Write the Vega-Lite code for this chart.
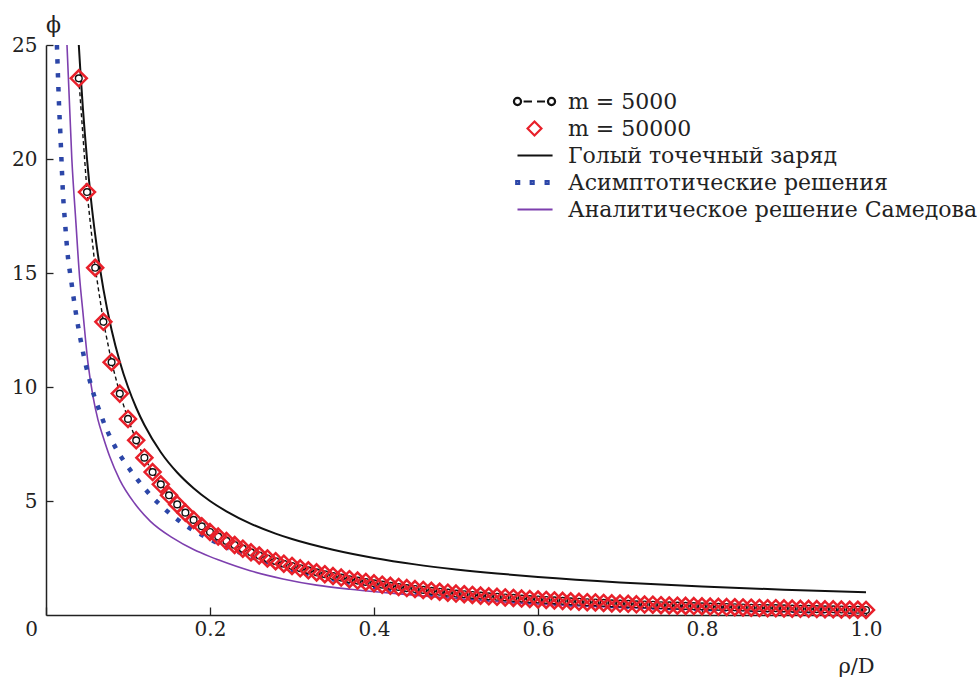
{
  "$schema": "https://vega.github.io/schema/vega-lite/v6.json",
  "width": 820,
  "height": 570,
  "autosize": {"type": "none"},
  "padding": {"left": 46, "top": 45, "right": 111, "bottom": 63},
  "background": "white",
  "config": {
    "font": "DejaVu Serif",
    "view": {"stroke": null},
    "axis": {
      "domainColor": "#222222",
      "domainWidth": 1.5,
      "tickColor": "#222222",
      "tickWidth": 1.3,
      "grid": false,
      "labelFlush": false,
      "labelFont": "DejaVu Serif",
      "labelFontSize": 20,
      "labelColor": "#222222",
      "titleFont": "DejaVu Serif",
      "titleFontWeight": "normal",
      "titleColor": "#222222"
    },
    "legend": {
      "orient": "none",
      "legendX": 466,
      "legendY": 44,
      "padding": 0,
      "labelFont": "DejaVu Serif",
      "labelFontSize": 22,
      "labelColor": "#222222",
      "labelOffset": 11,
      "symbolSize": 1764,
      "symbolStrokeWidth": 2.2,
      "clipHeight": 25,
      "rowPadding": 2,
      "labelLimit": 600
    }
  },
  "datasets": {
    "sim": [
      {"rho": 0.04, "m5000": 23.54, "m50000": 23.54},
      {"rho": 0.05, "m5000": 18.55, "m50000": 18.55},
      {"rho": 0.06, "m5000": 15.23, "m50000": 15.23},
      {"rho": 0.07, "m5000": 12.86, "m50000": 12.86},
      {"rho": 0.08, "m5000": 11.09, "m50000": 11.09},
      {"rho": 0.09, "m5000": 9.71, "m50000": 9.71},
      {"rho": 0.10, "m5000": 8.6, "m50000": 8.6},
      {"rho": 0.11, "m5000": 7.66, "m50000": 7.66},
      {"rho": 0.12, "m5000": 6.9, "m50000": 6.9},
      {"rho": 0.13, "m5000": 6.27, "m50000": 6.27},
      {"rho": 0.14, "m5000": 5.73, "m50000": 5.73},
      {"rho": 0.15, "m5000": 5.25, "m50000": 5.25},
      {"rho": 0.16, "m5000": 4.85, "m50000": 4.85},
      {"rho": 0.17, "m5000": 4.49, "m50000": 4.49},
      {"rho": 0.18, "m5000": 4.17, "m50000": 4.17},
      {"rho": 0.19, "m5000": 3.89, "m50000": 3.89},
      {"rho": 0.20, "m5000": 3.64, "m50000": 3.64},
      {"rho": 0.21, "m5000": 3.44, "m50000": 3.44},
      {"rho": 0.22, "m5000": 3.25, "m50000": 3.25},
      {"rho": 0.23, "m5000": 3.07, "m50000": 3.07},
      {"rho": 0.24, "m5000": 2.91, "m50000": 2.91},
      {"rho": 0.25, "m5000": 2.75, "m50000": 2.75},
      {"rho": 0.26, "m5000": 2.61, "m50000": 2.61},
      {"rho": 0.27, "m5000": 2.48, "m50000": 2.48},
      {"rho": 0.28, "m5000": 2.36, "m50000": 2.36},
      {"rho": 0.29, "m5000": 2.25, "m50000": 2.25},
      {"rho": 0.30, "m5000": 2.15, "m50000": 2.15},
      {"rho": 0.31, "m5000": 2.05, "m50000": 2.05},
      {"rho": 0.32, "m5000": 1.96, "m50000": 1.96},
      {"rho": 0.33, "m5000": 1.87, "m50000": 1.87},
      {"rho": 0.34, "m5000": 1.79, "m50000": 1.79},
      {"rho": 0.35, "m5000": 1.71, "m50000": 1.71},
      {"rho": 0.36, "m5000": 1.64, "m50000": 1.64},
      {"rho": 0.37, "m5000": 1.57, "m50000": 1.57},
      {"rho": 0.38, "m5000": 1.51, "m50000": 1.51},
      {"rho": 0.39, "m5000": 1.45, "m50000": 1.45},
      {"rho": 0.40, "m5000": 1.39, "m50000": 1.39},
      {"rho": 0.41, "m5000": 1.33, "m50000": 1.33},
      {"rho": 0.42, "m5000": 1.28, "m50000": 1.28},
      {"rho": 0.43, "m5000": 1.23, "m50000": 1.23},
      {"rho": 0.44, "m5000": 1.18, "m50000": 1.18},
      {"rho": 0.45, "m5000": 1.14, "m50000": 1.14},
      {"rho": 0.46, "m5000": 1.1, "m50000": 1.1},
      {"rho": 0.47, "m5000": 1.06, "m50000": 1.06},
      {"rho": 0.48, "m5000": 1.02, "m50000": 1.02},
      {"rho": 0.49, "m5000": 0.98, "m50000": 0.98},
      {"rho": 0.50, "m5000": 0.94, "m50000": 0.94},
      {"rho": 0.51, "m5000": 0.91, "m50000": 0.91},
      {"rho": 0.52, "m5000": 0.88, "m50000": 0.88},
      {"rho": 0.53, "m5000": 0.85, "m50000": 0.85},
      {"rho": 0.54, "m5000": 0.82, "m50000": 0.82},
      {"rho": 0.55, "m5000": 0.8, "m50000": 0.8},
      {"rho": 0.56, "m5000": 0.77, "m50000": 0.77},
      {"rho": 0.57, "m5000": 0.75, "m50000": 0.75},
      {"rho": 0.58, "m5000": 0.72, "m50000": 0.72},
      {"rho": 0.59, "m5000": 0.7, "m50000": 0.7},
      {"rho": 0.60, "m5000": 0.68, "m50000": 0.68},
      {"rho": 0.61, "m5000": 0.66, "m50000": 0.66},
      {"rho": 0.62, "m5000": 0.64, "m50000": 0.64},
      {"rho": 0.63, "m5000": 0.62, "m50000": 0.62},
      {"rho": 0.64, "m5000": 0.6, "m50000": 0.6},
      {"rho": 0.65, "m5000": 0.58, "m50000": 0.58},
      {"rho": 0.66, "m5000": 0.56, "m50000": 0.56},
      {"rho": 0.67, "m5000": 0.55, "m50000": 0.55},
      {"rho": 0.68, "m5000": 0.53, "m50000": 0.53},
      {"rho": 0.69, "m5000": 0.51, "m50000": 0.51},
      {"rho": 0.70, "m5000": 0.5, "m50000": 0.5},
      {"rho": 0.71, "m5000": 0.49, "m50000": 0.49},
      {"rho": 0.72, "m5000": 0.47, "m50000": 0.47},
      {"rho": 0.73, "m5000": 0.46, "m50000": 0.46},
      {"rho": 0.74, "m5000": 0.45, "m50000": 0.45},
      {"rho": 0.75, "m5000": 0.43, "m50000": 0.43},
      {"rho": 0.76, "m5000": 0.42, "m50000": 0.42},
      {"rho": 0.77, "m5000": 0.41, "m50000": 0.41},
      {"rho": 0.78, "m5000": 0.4, "m50000": 0.4},
      {"rho": 0.79, "m5000": 0.39, "m50000": 0.39},
      {"rho": 0.80, "m5000": 0.38, "m50000": 0.38},
      {"rho": 0.81, "m5000": 0.37, "m50000": 0.37},
      {"rho": 0.82, "m5000": 0.36, "m50000": 0.36},
      {"rho": 0.83, "m5000": 0.35, "m50000": 0.35},
      {"rho": 0.84, "m5000": 0.34, "m50000": 0.34},
      {"rho": 0.85, "m5000": 0.33, "m50000": 0.33},
      {"rho": 0.86, "m5000": 0.32, "m50000": 0.32},
      {"rho": 0.87, "m5000": 0.31, "m50000": 0.31},
      {"rho": 0.88, "m5000": 0.3, "m50000": 0.3},
      {"rho": 0.89, "m5000": 0.3, "m50000": 0.3},
      {"rho": 0.90, "m5000": 0.29, "m50000": 0.29},
      {"rho": 0.91, "m5000": 0.28, "m50000": 0.28},
      {"rho": 0.92, "m5000": 0.27, "m50000": 0.27},
      {"rho": 0.93, "m5000": 0.27, "m50000": 0.27},
      {"rho": 0.94, "m5000": 0.26, "m50000": 0.26},
      {"rho": 0.95, "m5000": 0.25, "m50000": 0.25},
      {"rho": 0.96, "m5000": 0.25, "m50000": 0.25},
      {"rho": 0.97, "m5000": 0.24, "m50000": 0.24},
      {"rho": 0.98, "m5000": 0.23, "m50000": 0.23},
      {"rho": 0.99, "m5000": 0.23, "m50000": 0.23},
      {"rho": 1.00, "m5000": 0.22, "m50000": 0.22}
    ],
    "bare": [
      {"rho": 0.04, "phi": 25},
      {"rho": 0.042, "phi": 23.81},
      {"rho": 0.045, "phi": 22.22},
      {"rho": 0.05, "phi": 20},
      {"rho": 0.055, "phi": 18.18},
      {"rho": 0.06, "phi": 16.67},
      {"rho": 0.07, "phi": 14.29},
      {"rho": 0.08, "phi": 12.5},
      {"rho": 0.09, "phi": 11.11},
      {"rho": 0.1, "phi": 10},
      {"rho": 0.11, "phi": 9.09},
      {"rho": 0.12, "phi": 8.33},
      {"rho": 0.14, "phi": 7.14},
      {"rho": 0.16, "phi": 6.25},
      {"rho": 0.18, "phi": 5.56},
      {"rho": 0.2, "phi": 5},
      {"rho": 0.22, "phi": 4.55},
      {"rho": 0.25, "phi": 4},
      {"rho": 0.28, "phi": 3.57},
      {"rho": 0.3, "phi": 3.33},
      {"rho": 0.35, "phi": 2.86},
      {"rho": 0.4, "phi": 2.5},
      {"rho": 0.45, "phi": 2.22},
      {"rho": 0.5, "phi": 2},
      {"rho": 0.55, "phi": 1.82},
      {"rho": 0.6, "phi": 1.67},
      {"rho": 0.7, "phi": 1.43},
      {"rho": 0.8, "phi": 1.25},
      {"rho": 0.9, "phi": 1.11},
      {"rho": 1.0, "phi": 1.0}
    ],
    "asym": [
      {"rho": 0.0133, "phi": 25},
      {"rho": 0.0146, "phi": 23.64},
      {"rho": 0.0159, "phi": 22.37},
      {"rho": 0.0176, "phi": 21.05},
      {"rho": 0.0191, "phi": 19.76},
      {"rho": 0.0207, "phi": 18.49},
      {"rho": 0.0232, "phi": 17.23},
      {"rho": 0.0261, "phi": 15.93},
      {"rho": 0.031, "phi": 14.6},
      {"rho": 0.0362, "phi": 13.3},
      {"rho": 0.0423, "phi": 12.05},
      {"rho": 0.0493, "phi": 10.85},
      {"rho": 0.0541, "phi": 10.18},
      {"rho": 0.0594, "phi": 9.54},
      {"rho": 0.0655, "phi": 8.93},
      {"rho": 0.0716, "phi": 8.34},
      {"rho": 0.0789, "phi": 7.76},
      {"rho": 0.087, "phi": 7.2},
      {"rho": 0.0968, "phi": 6.66},
      {"rho": 0.107, "phi": 6.15},
      {"rho": 0.1184, "phi": 5.63},
      {"rho": 0.1305, "phi": 5.14},
      {"rho": 0.1435, "phi": 4.69},
      {"rho": 0.157, "phi": 4.28},
      {"rho": 0.1715, "phi": 3.9},
      {"rho": 0.187, "phi": 3.57},
      {"rho": 0.202, "phi": 3.28},
      {"rho": 0.218, "phi": 3.0},
      {"rho": 0.235, "phi": 2.76},
      {"rho": 0.251, "phi": 2.54},
      {"rho": 0.268, "phi": 2.33},
      {"rho": 0.285, "phi": 2.14},
      {"rho": 0.302, "phi": 1.96},
      {"rho": 0.32, "phi": 1.8},
      {"rho": 0.338, "phi": 1.65},
      {"rho": 0.356, "phi": 1.52},
      {"rho": 0.373, "phi": 1.4},
      {"rho": 0.391, "phi": 1.28},
      {"rho": 0.407, "phi": 1.18},
      {"rho": 0.426, "phi": 1.09},
      {"rho": 0.48, "phi": 0.88},
      {"rho": 0.533, "phi": 0.7},
      {"rho": 0.587, "phi": 0.57},
      {"rho": 0.7, "phi": 0.38},
      {"rho": 0.8, "phi": 0.27},
      {"rho": 0.9, "phi": 0.19},
      {"rho": 1.0, "phi": 0.13}
    ],
    "anal": [
      {"rho": 0.0256, "phi": 25},
      {"rho": 0.0315, "phi": 20},
      {"rho": 0.0365, "phi": 17.2},
      {"rho": 0.041, "phi": 14.8},
      {"rho": 0.0451, "phi": 13.25},
      {"rho": 0.0512, "phi": 11.05},
      {"rho": 0.0573, "phi": 9.59},
      {"rho": 0.0634, "phi": 8.56},
      {"rho": 0.0695, "phi": 7.83},
      {"rho": 0.0777, "phi": 6.95},
      {"rho": 0.0899, "phi": 5.93},
      {"rho": 0.108, "phi": 4.9},
      {"rho": 0.127, "phi": 4.12},
      {"rho": 0.155, "phi": 3.37},
      {"rho": 0.18, "phi": 2.87},
      {"rho": 0.2, "phi": 2.56},
      {"rho": 0.21, "phi": 2.42},
      {"rho": 0.249, "phi": 1.94},
      {"rho": 0.289, "phi": 1.58},
      {"rho": 0.33, "phi": 1.31},
      {"rho": 0.371, "phi": 1.13},
      {"rho": 0.411, "phi": 0.99},
      {"rho": 0.452, "phi": 0.86},
      {"rho": 0.493, "phi": 0.74},
      {"rho": 0.533, "phi": 0.63},
      {"rho": 0.574, "phi": 0.53},
      {"rho": 0.615, "phi": 0.45},
      {"rho": 0.7, "phi": 0.33},
      {"rho": 0.8, "phi": 0.23},
      {"rho": 0.9, "phi": 0.16},
      {"rho": 1.0, "phi": 0.11}
    ]
  },
  "layer": [
    {
      "data": {"name": "bare"},
      "mark": {"type": "line", "strokeWidth": 2, "clip": true, "interpolate": "monotone"},
      "encoding": {
        "x": {
          "field": "rho", "type": "quantitative",
          "scale": {"domain": [0, 1], "nice": false, "zero": false},
          "axis": {
            "values": [0, 0.2, 0.4, 0.6, 0.8, 1.0],
            "labelExpr": "datum.value === 0 ? '0' : format(datum.value, '.1f')",
            "tickSize": -8,
            "labelPadding": 12,
            "labelOffset": {"condition": {"test": "datum.value === 0", "value": -15}, "value": 0},
            "title": "ρ/D",
            "titleFontSize": 21,
            "titleX": 810,
            "titleY": 57,
            "titleAlign": "center",
            "titleBaseline": "alphabetic",
            "titleAnchor": null
          }
        },
        "y": {
          "field": "phi", "type": "quantitative",
          "scale": {"domain": [0, 25], "nice": false},
          "axis": {
            "values": [5, 10, 15, 20, 25],
            "tickSize": -7,
            "labelPadding": 16,
            "title": "ϕ",
            "titleAngle": 0,
            "titleFontSize": 22,
            "titleX": 7,
            "titleY": -14,
            "titleAlign": "center",
            "titleBaseline": "alphabetic",
            "titleAnchor": null
          }
        },
        "color": {
          "datum": "Голый точечный заряд",
          "scale": {
            "domain": ["m = 5000", "m = 50000", "Голый точечный заряд", "Асимптотические решения", "Аналитическое решение Самедова"],
            "range": ["#111111", "#e8202a", "#111111", "#2c46a8", "#7d3fae"]
          },
          "legend": {"title": null}
        }
      }
    },
    {
      "data": {"name": "anal"},
      "mark": {"type": "line", "strokeWidth": 1.6, "clip": true, "interpolate": "monotone"},
      "encoding": {
        "x": {"field": "rho", "type": "quantitative"},
        "y": {"field": "phi", "type": "quantitative"},
        "color": {"datum": "Аналитическое решение Самедова"}
      }
    },
    {
      "data": {"name": "asym"},
      "mark": {"type": "line", "strokeWidth": 4.5, "strokeDash": [4.5, 9.5], "strokeCap": "butt", "clip": true, "interpolate": "monotone"},
      "encoding": {
        "x": {"field": "rho", "type": "quantitative"},
        "y": {"field": "phi", "type": "quantitative"},
        "color": {"datum": "Асимптотические решения"}
      }
    },
    {
      "data": {"name": "sim"},
      "mark": {"type": "line", "strokeWidth": 1.4, "strokeDash": [4, 3], "clip": true},
      "encoding": {
        "x": {"field": "rho", "type": "quantitative"},
        "y": {"field": "m5000", "type": "quantitative"},
        "color": {"datum": "m = 5000"}
      }
    },
    {
      "data": {"name": "sim"},
      "mark": {"type": "circle", "filled": false, "fill": "white", "stroke": "#111111", "strokeWidth": 1.4, "size": 45, "opacity": 1},
      "encoding": {
        "x": {"field": "rho", "type": "quantitative"},
        "y": {"field": "m5000", "type": "quantitative"}
      }
    },
    {
      "data": {"name": "sim"},
      "mark": {"type": "point", "filled": false, "strokeWidth": 2.5, "size": 2350, "opacity": 1},
      "encoding": {
        "x": {"field": "rho", "type": "quantitative"},
        "y": {"field": "m50000", "type": "quantitative"},
        "color": {"datum": "m = 50000"},
        "shape": {
          "datum": "m = 50000",
          "scale": {
            "domain": ["m = 5000", "m = 50000", "Голый точечный заряд", "Асимптотические решения", "Аналитическое решение Самедова"],
            "range": [
              "M-0.64,0A0.17,0.17 0 1,1 -0.98,0A0.17,0.17 0 1,1 -0.64,0M-0.52,0H-0.12M0.12,0H0.5M0.98,0A0.17,0.17 0 1,1 0.64,0A0.17,0.17 0 1,1 0.98,0",
              "M0,-0.33L0.33,0L0,0.33L-0.33,0Z",
              "M-0.81,0H0.86",
              "M-0.87,-0.07h0.14v0.14h-0.14ZM-0.18,-0.07h0.14v0.14h-0.14ZM0.53,-0.07h0.14v0.14h-0.14Z",
              "M-0.81,0H0.86"
            ]
          },
          "legend": {"title": null}
        }
      }
    }
  ]
}
